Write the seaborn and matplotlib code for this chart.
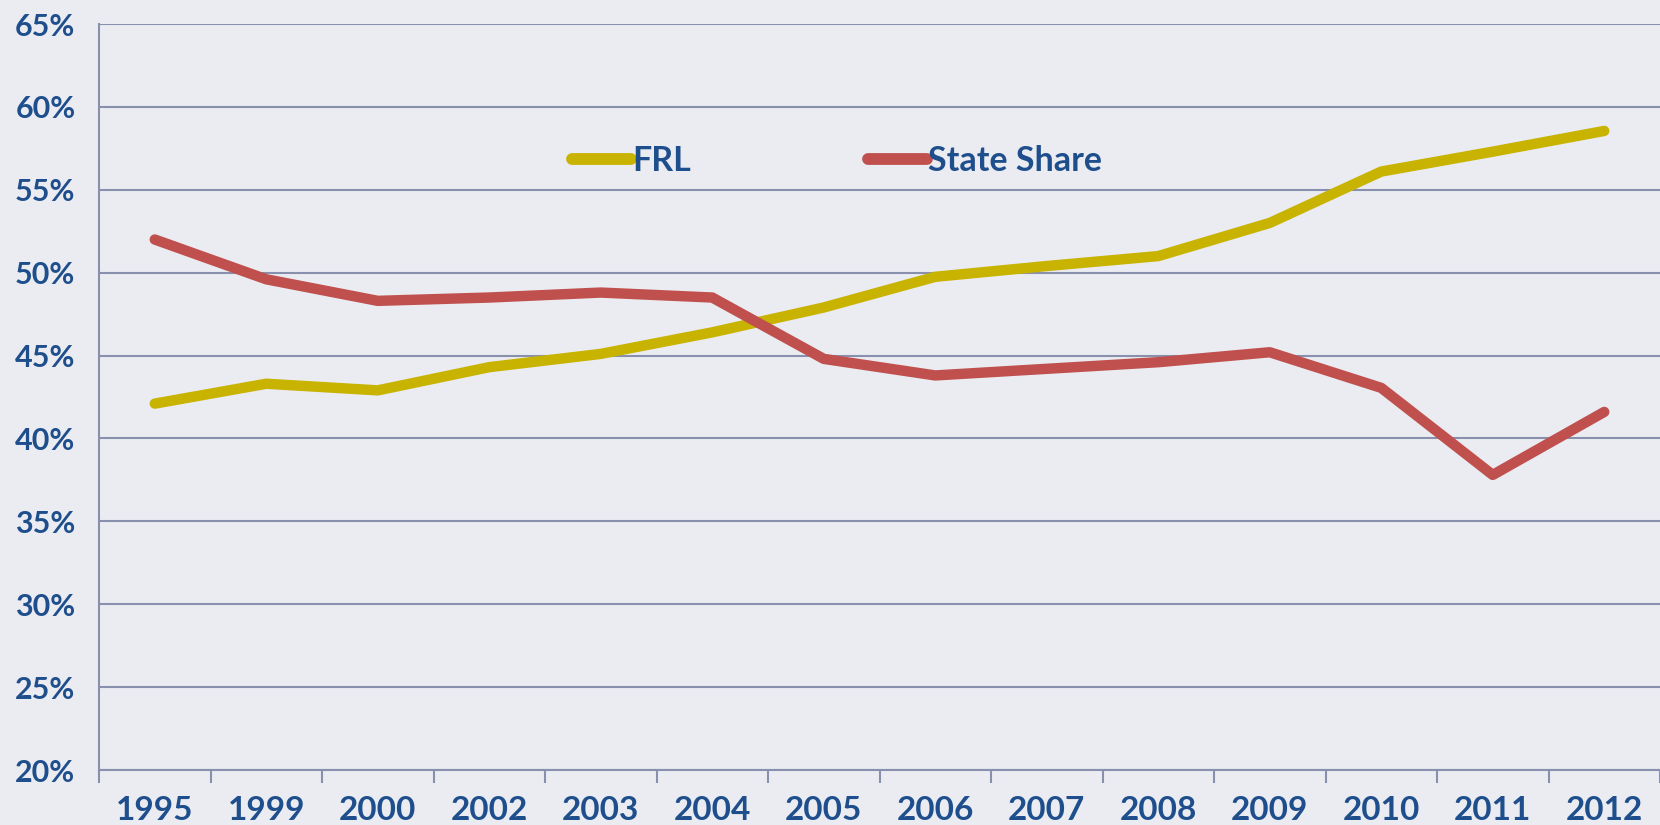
import numpy as np
import pandas as pd
import seaborn as sns
import matplotlib.pyplot as plt
from matplotlib.ticker import PercentFormatter, FixedLocator

# 数据
years = ['1995', '1999', '2000', '2002', '2003', '2004', '2005',
         '2006', '2007', '2008', '2009', '2010', '2011', '2012']
frl = [42.1, 43.3, 42.9, 44.3, 45.1, 46.4, 47.9,
       49.75, 50.4, 51.0, 53.0, 56.1, 57.3, 58.55]
state_share = [52.0, 49.6, 48.3, 48.5, 48.8, 48.5, 44.8,
               43.8, 44.2, 44.6, 45.2, 43.05, 37.8, 41.6]
series_names = ['FRL', 'State Share']
y_ticks = [20, 25, 30, 35, 40, 45, 50, 55, 60, 65]

df = pd.DataFrame({'pos': list(range(len(years))) * 2,
                   'value': frl + state_share,
                   'series': [series_names[0]] * len(years) + [series_names[1]] * len(years)})

sns.set_theme(style='white')
plt.rcParams['font.family'] = ['Lato', 'DejaVu Sans']
text_color = '#1f4e8c'
grid_color = '#8890ad'
bg = '#eaecf1'
palette = {'FRL': '#c8b300', 'State Share': '#c0504d'}

fig = plt.figure(figsize=(16.6, 8.25), dpi=100, facecolor=bg)
ax = fig.add_axes([99 / 1660, 55 / 825, 1561 / 1660, 746 / 825])
ax.set_facecolor(bg)

sns.lineplot(data=df, x='pos', y='value', hue='series', palette=palette,
             lw=7.5, ax=ax, solid_capstyle='round', legend=True)

ax.set_xlim(-0.5, len(years) - 0.5)
ax.set_ylim(20, 65)
ax.set_yticks(y_ticks)
ax.yaxis.set_major_formatter(PercentFormatter(decimals=0))
ax.set_xticks(range(len(years)))
ax.set_xticklabels(years)
ax.xaxis.set_minor_locator(FixedLocator(np.arange(-0.5, len(years), 1.0)))
ax.tick_params(axis='x', which='major', length=0, pad=19, labelsize=24, labelcolor=text_color)
ax.tick_params(axis='x', which='minor', length=9, width=1.5, color=grid_color, direction='out', bottom=True)
ax.tick_params(axis='y', length=9, width=1.5, color=grid_color, pad=8, labelsize=22, labelcolor=text_color)
for lab in ax.get_xticklabels() + ax.get_yticklabels():
    lab.set_fontweight('bold')

ax.grid(axis='y', color=grid_color, lw=1.5)
ax.set_axisbelow(True)
for s in ['top', 'right']:
    ax.spines[s].set_visible(False)
ax.spines['left'].set_color(grid_color)
ax.spines['left'].set_linewidth(1.5)
ax.spines['bottom'].set_color(grid_color)
ax.spines['bottom'].set_linewidth(1.5)
ax.set_xlabel('')
ax.set_ylabel('')

leg = ax.legend(loc='center', bbox_to_anchor=(0.473, 0.817), ncol=2, frameon=False,
                handlelength=1.72, handletextpad=0.05, columnspacing=5.2,
                prop={'size': 24.5, 'weight': 'bold'})
for t in leg.get_texts():
    t.set_color(text_color)
for h in leg.get_lines():
    h.set_linewidth(8.5)
    h.set_solid_capstyle('round')

fig.savefig('out.png', dpi=100, facecolor=bg)
